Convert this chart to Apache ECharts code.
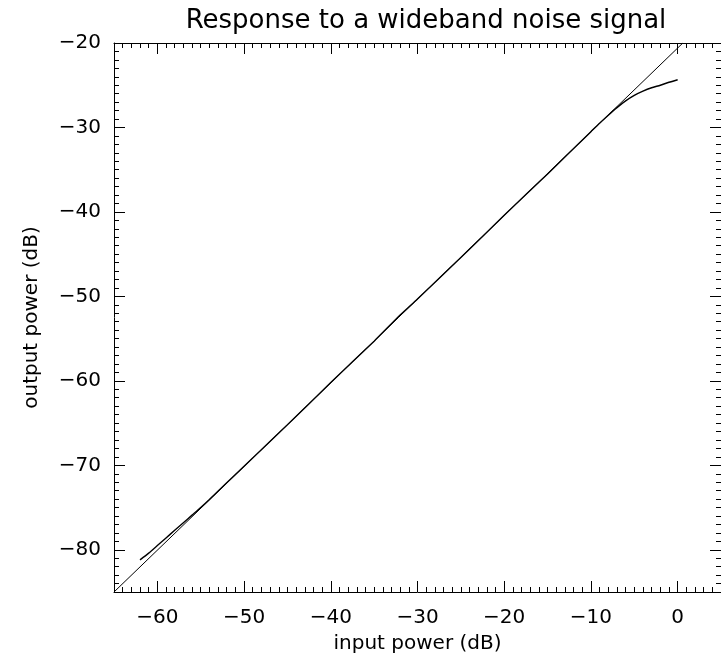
<!DOCTYPE html>
<html>
<head>
<meta charset="utf-8">
<script src="https://cdn.jsdelivr.net/npm/echarts@6/dist/echarts.min.js"></script>
<style>
  html, body { margin: 0; padding: 0; background: #fff; }
  #chart { width: 721px; height: 659px; }
</style>
</head>
<body>
<div id="chart"></div>
<script>
  // measured response (input dB -> output dB)
  var inputDb = [-62, -61, -60, -59, -58, -57, -56, -55, -54, -50, -45, -40, -35, -32, -30,
                 -25, -20, -15, -10, -9, -8, -7, -6, -5, -4, -3, -2, -1, 0];
  var outputDb = [-81.2, -80.4, -79.5, -78.6, -77.7, -76.8, -75.9, -75.0, -74.05, -70.1, -65.2,
                  -60.2, -55.3, -52.2, -50.3, -45.4, -40.4, -35.5, -30.5, -29.5, -28.55, -27.65,
                  -26.85, -26.2, -25.7, -25.3, -25.0, -24.65, -24.35];
  // straight reference line
  var refX = [-65, 0.6];
  var refY = [-85, -20];

  var xTicks = [-60, -50, -40, -30, -20, -10, 0];
  var yTicks = [-80, -70, -60, -50, -40, -30, -20];

  var FONT = 'DejaVu Sans';
  var fmt = function (v) { return String(v).replace('-', '\u2212'); };

  function pairs(xs, ys) {
    return xs.map(function (x, i) { return [x, ys[i]]; });
  }

  // major axis (ticks every 10, long) and a label-less axis for minor ticks every 1
  function xAxisPair(pos, labels) {
    return [
      {
        type: 'value', position: pos, min: -65, max: 5,
        axisLine: { show: true, onZero: false, lineStyle: { color: '#000', width: 1 } },
        axisTick: { show: true, inside: true, length: 11, customValues: xTicks, lineStyle: { color: '#000', width: 1 } },
        axisLabel: labels ? {
          show: true, customValues: xTicks, formatter: fmt, margin: 16,
          color: '#000', fontFamily: FONT, fontSize: 20
        } : { show: false },
        splitLine: { show: false },
        name: labels ? 'input power (dB)' : '',
        nameLocation: 'middle', nameGap: 42,
        nameTextStyle: { color: '#000', fontFamily: FONT, fontSize: 20 }
      },
      {
        type: 'value', position: pos, min: -65, max: 5, interval: 1,
        axisLine: { show: false, onZero: false },
        axisTick: { show: true, inside: true, length: 5, lineStyle: { color: '#000', width: 1 } },
        axisLabel: { show: false },
        splitLine: { show: false }
      }
    ];
  }

  function yAxisPair(pos, labels) {
    return [
      {
        type: 'value', position: pos, min: -85, max: -20,
        axisLine: { show: true, onZero: false, lineStyle: { color: '#000', width: 1 } },
        axisTick: { show: true, inside: true, length: 11, customValues: yTicks, lineStyle: { color: '#000', width: 1 } },
        axisLabel: labels ? {
          show: true, customValues: yTicks, formatter: fmt, margin: 13,
          color: '#000', fontFamily: FONT, fontSize: 20
        } : { show: false },
        splitLine: { show: false },
        name: labels ? 'output power (dB)' : '',
        nameLocation: 'middle', nameGap: 72, nameRotate: 90,
        nameTextStyle: { color: '#000', fontFamily: FONT, fontSize: 20 }
      },
      {
        type: 'value', position: pos, min: -85, max: -20, interval: 1,
        axisLine: { show: false, onZero: false },
        axisTick: { show: true, inside: true, length: 5, lineStyle: { color: '#000', width: 1 } },
        axisLabel: { show: false },
        splitLine: { show: false }
      }
    ];
  }

  var chart = echarts.init(document.getElementById('chart'), null, { renderer: 'canvas' });
  chart.setOption({
    animation: false,
    backgroundColor: '#fff',
    title: {
      text: 'Response to a wideband noise signal',
      left: 421, top: 3, textAlign: 'center',
      textStyle: { color: '#000', fontFamily: FONT, fontSize: 26, fontWeight: 'normal' }
    },
    grid: { left: 114, right: -3, top: 43, bottom: 66 },
    xAxis: xAxisPair('bottom', true).concat(xAxisPair('top', false)),
    yAxis: yAxisPair('left', true).concat(yAxisPair('right', false)),
    series: [
      {
        type: 'line', xAxisIndex: 0, yAxisIndex: 0,
        data: pairs(refX, refY),
        showSymbol: false, clip: true,
        lineStyle: { color: '#000', width: 1 }
      },
      {
        type: 'line', xAxisIndex: 0, yAxisIndex: 0,
        data: pairs(inputDb, outputDb),
        showSymbol: false, smooth: 0.2,
        lineStyle: { color: '#000', width: 1.4 }
      }
    ]
  });
</script>
</body>
</html>
